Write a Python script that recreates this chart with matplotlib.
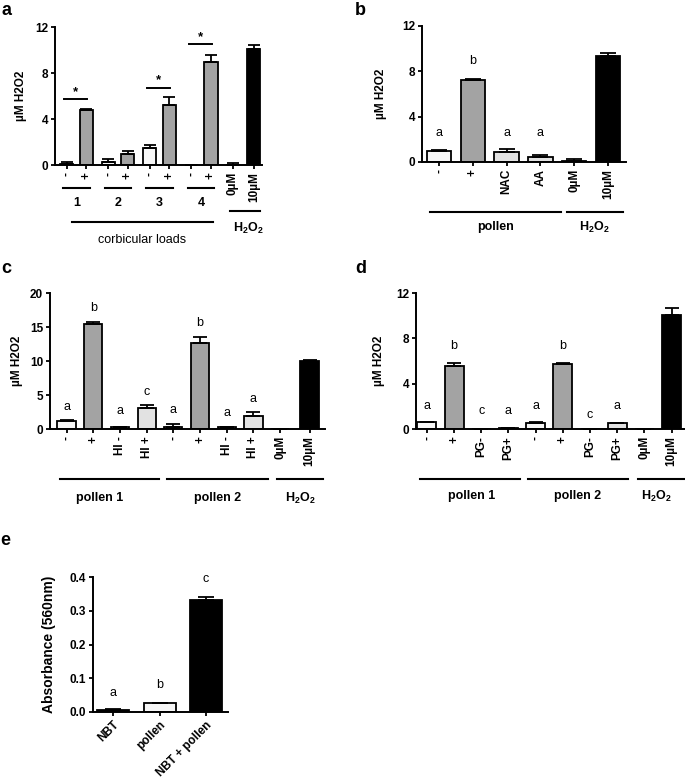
import numpy as np
import matplotlib
matplotlib.use("Agg")
import matplotlib.pyplot as plt
import matplotlib.transforms as mtransforms

plt.rcParams['font.family'] = ['Liberation Sans', 'DejaVu Sans']
plt.rcParams['mathtext.fontset'] = 'custom'
plt.rcParams['mathtext.rm'] = 'Liberation Sans'
plt.rcParams['mathtext.bf'] = 'Liberation Sans:bold'

W, H = 685, 784
WHITE = '#f7f7f7'
GREY = '#a3a3a3'
LIGHT = '#e2e2e2'
BLACK = '#000000'

# panel a - corbicular loads
a_labels = ['-', '+', '-', '+', '-', '+', '-', '+', '0µM', '10µM']
a_vals = [0.1, 4.75, 0.25, 0.95, 1.45, 5.2, 0.0, 9.0, 0.0, 10.05]
a_err = [0.2, 0.08, 0.25, 0.3, 0.25, 0.75, 0.0, 0.57, 0.2, 0.35]
a_cols = [WHITE, GREY, WHITE, GREY, WHITE, GREY, WHITE, GREY, WHITE, BLACK]
a_pairs = ['1', '2', '3', '4']

# panel b - antioxidants
b_labels = ['-', '+', 'NAC', 'AA', '0µM', '10µM']
b_vals = [0.97, 7.24, 0.85, 0.41, 0.05, 9.35]
b_err = [0.12, 0.1, 0.27, 0.19, 0.18, 0.3]
b_cols = [WHITE, GREY, LIGHT, LIGHT, WHITE, BLACK]
b_letters = ['a', 'b', 'a', 'a', '', '']

# panel c - heat inactivation
c_labels = ['-', '+', 'HI -', 'HI +', '-', '+', 'HI -', 'HI +', '0µM', '10µM']
c_vals = [1.13, 15.5, 0.3, 3.1, 0.3, 12.7, 0.3, 1.86, 0.0, 9.95]
c_err = [0.2, 0.25, 0.05, 0.4, 0.5, 0.8, 0.05, 0.6, 0.0, 0.15]
c_cols = [WHITE, GREY, LIGHT, LIGHT, WHITE, GREY, LIGHT, LIGHT, WHITE, BLACK]
c_letters = ['a', 'b', 'a', 'c', 'a', 'b', 'a', 'a', '', '']
c_letter_y = [3.3, 17.8, 2.6, 5.4, 2.85, 15.6, 2.35, 4.4]

# panel d - propyl gallate
d_labels = ['-', '+', 'PG-', 'PG+', '-', '+', 'PG-', 'PG+', '0µM', '10µM']
d_vals = [0.62, 5.59, 0.0, 0.08, 0.55, 5.74, 0.0, 0.53, 0.0, 10.09]
d_err = [0.03, 0.23, 0.0, 0.02, 0.03, 0.06, 0.0, 0.03, 0.0, 0.6]
d_cols = [WHITE, GREY, LIGHT, LIGHT, WHITE, GREY, LIGHT, LIGHT, WHITE, BLACK]
d_letters = ['a', 'b', 'c', 'a', 'a', 'b', 'c', 'a', '', '']
d_letter_y = [2.0, 7.36, 1.55, 1.55, 2.0, 7.36, 1.26, 2.0]

# panel e - NBT absorbance
e_labels = ['NBT', 'pollen', 'NBT + pollen']
e_vals = [0.006, 0.027, 0.333]
e_err = [0.002, 0.001, 0.008]
e_cols = [BLACK, WHITE, BLACK]
e_letters = ['a', 'b', 'c']
e_letter_y = [0.056, 0.079, 0.394]

fig = plt.figure(figsize=(W / 100, H / 100), dpi=100)


def px_axes(l, r, t, b):
    return fig.add_axes([l / W, 1 - b / H, (r - l) / W, (b - t) / H])


def style(ax):
    for s in ['top', 'right']:
        ax.spines[s].set_visible(False)
    for s in ['left', 'bottom']:
        ax.spines[s].set_linewidth(1.4)
    ax.tick_params(direction='out', length=3, width=1.3, pad=2, labelsize=8.5)
    for t in ax.get_yticklabels() + ax.get_xticklabels():
        t.set_fontweight('bold')


def bars(ax, x, vals, err, cols, width, cap):
    ax.bar(x, vals, width=width, color=cols, edgecolor='k', linewidth=1.3, zorder=2)
    ax.errorbar(x, vals, yerr=[np.zeros(len(err)), err], fmt='none', ecolor='k',
                elinewidth=1.3, capsize=cap, capthick=1.3, zorder=3)


def below(ax, dy):
    tr = mtransforms.blended_transform_factory(ax.transData, ax.transAxes)
    return tr + mtransforms.ScaledTranslation(0, -dy / 100, fig.dpi_scale_trans)


def under_line(ax, x0, x1, dy):
    ax.plot([x0, x1], [0, 0], color='k', lw=1.5, transform=below(ax, dy), clip_on=False)


def under_text(ax, x, dy, s, bold=True, size=9):
    ax.text(x, 0, s, transform=below(ax, dy), ha='center', va='center',
            fontsize=size, fontweight='bold' if bold else 'normal')


def ylab(ax, s, pad, size=8.5):
    ax.set_ylabel(s, fontsize=size, fontweight='bold', labelpad=pad)


H2O2 = r'$\mathbf{H_2O_2}$'

# ---------- a ----------
ax = px_axes(55, 262, 27, 165)
xa = [0, 1, 2.13, 3.13, 4.26, 5.26, 6.4, 7.4, 8.53, 9.6]
bars(ax, xa, a_vals, a_err, a_cols, 0.68, 4.5)
ax.set_xlim(-0.6, 10.02)
ax.set_ylim(0, 12)
ax.set_yticks([0, 4, 8, 12])
ax.set_xticks(xa)
ax.set_xticklabels(a_labels, rotation=90)
ylab(ax, 'µM H2O2', 6)
style(ax)
for k, (ys, yt) in zip([0, 2, 3], [(5.7, 6.3), (6.7, 7.35), (10.5, 11.15)]):
    p0, p1 = xa[2 * k], xa[2 * k + 1]
    ax.plot([p0 - 0.15, p1 + 0.05], [ys, ys], color='k', lw=1.4, clip_on=False)
    ax.text((p0 + p1) / 2 - 0.05, yt, '*', ha='center', va='center', fontsize=9.5, fontweight='bold')
for k, lab in enumerate(a_pairs):
    p0, p1 = xa[2 * k], xa[2 * k + 1]
    under_line(ax, p0 - 0.17, p1 + 0.18, 23)
    under_text(ax, (p0 + p1) / 2, 38, lab)
under_line(ax, 0.27, 7.5, 57)
under_text(ax, 3.87, 75, 'corbicular loads', bold=False)
under_line(ax, 8.37, 9.92, 46)
under_text(ax, 9.3, 63, H2O2)
fig.text(1 / W, 1 - 15 / H, 'a', fontsize=13, fontweight='bold')

# ---------- b ----------
ax = px_axes(422, 626, 26, 162)
xb = np.arange(len(b_vals))
bars(ax, xb, b_vals, b_err, b_cols, 0.72, 6)
ax.set_xlim(-0.5, 5.53)
ax.set_ylim(0, 12)
ax.set_yticks([0, 4, 8, 12])
ax.set_xticks(xb)
ax.set_xticklabels(b_labels, rotation=90)
ylab(ax, 'µM H2O2', 11)
style(ax)
for x, lab, y in zip(xb, b_letters, [2.53, 8.9, 2.53, 2.53]):
    ax.text(x, y, lab, ha='center', va='center', fontsize=9)
under_line(ax, -0.27, 3.6, 50)
under_line(ax, 3.79, 5.44, 50)
under_text(ax, 1.66, 65, 'pollen')
under_text(ax, 4.6, 65, H2O2)
fig.text(355 / W, 1 - 15 / H, 'b', fontsize=13, fontweight='bold')

# ---------- c ----------
ax = px_axes(50, 325, 293, 429)
xc = [0, 1, 2, 3, 4, 5, 6, 7, 8, 9.1]
bars(ax, xc, c_vals, c_err, c_cols, 0.68, 5)
ax.set_xlim(-0.62, 9.68)
ax.set_ylim(0, 20)
ax.set_yticks([0, 5, 10, 15, 20])
ax.set_xticks(xc)
ax.set_xticklabels(c_labels, rotation=90)
ylab(ax, 'µM H2O2', 5)
style(ax)
for x, lab, y in zip(xc, c_letters, c_letter_y):
    ax.text(x, y, lab, ha='center', va='center', fontsize=9)
under_line(ax, -0.25, 3.46, 50)
under_line(ax, 3.76, 7.54, 50)
under_line(ax, 7.88, 9.6, 50)
under_text(ax, 1.25, 69, 'pollen 1')
under_text(ax, 5.67, 69, 'pollen 2')
under_text(ax, 8.74, 69, H2O2)
fig.text(1 / W, 1 - 273 / H, 'c', fontsize=13, fontweight='bold')

# ---------- d ----------
ax = px_axes(416, 685, 293, 429)
xd = np.arange(len(d_vals))
bars(ax, xd, d_vals, d_err, d_cols, 0.7, 5)
ax.set_xlim(-0.4, 9.49)
ax.set_ylim(0, 12)
ax.set_yticks([0, 4, 8, 12])
ax.set_xticks(xd)
ax.set_xticklabels(d_labels, rotation=90)
ylab(ax, 'µM H2O2', 8)
style(ax)
for x, lab, y in zip(xd, d_letters, d_letter_y):
    ax.text(x, y, lab, ha='center', va='center', fontsize=9)
under_line(ax, -0.26, 3.42, 50)
under_line(ax, 3.71, 7.39, 50)
under_line(ax, 7.76, 9.45, 50)
under_text(ax, 1.64, 67, 'pollen 1')
under_text(ax, 5.55, 67, 'pollen 2')
under_text(ax, 8.45, 67, H2O2)
fig.text(355 / W, 1 - 273 / H, 'd', fontsize=13, fontweight='bold')

# ---------- e ----------
ax = px_axes(93, 228, 577, 712)
xe = np.arange(len(e_vals))
bars(ax, xe, e_vals, e_err, e_cols, 0.69, 5.5)
ax.set_xlim(-0.43, 2.47)
ax.set_ylim(0, 0.4)
ax.set_yticks([0, 0.1, 0.2, 0.3, 0.4])
ax.set_yticklabels(['0.0', '0.1', '0.2', '0.3', '0.4'])
ax.set_xticks(xe)
ax.set_xticklabels(e_labels, rotation=45, ha='right', rotation_mode='anchor')
ylab(ax, 'Absorbance (560nm)', 10, size=10)
style(ax)
for x, lab, y in zip(xe, e_letters, e_letter_y):
    ax.text(x, y, lab, ha='center', va='center', fontsize=9)
fig.text(0, 1 - 545 / H, 'e', fontsize=13, fontweight='bold')

fig.savefig('out.png', dpi=100)
